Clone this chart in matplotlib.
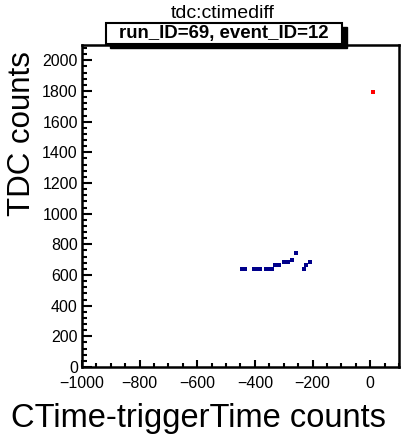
import matplotlib
matplotlib.use("Agg")
import matplotlib.pyplot as plt
from matplotlib.patches import Rectangle
from matplotlib.ticker import MultipleLocator

plt.rcParams['font.family'] = ['Liberation Sans', 'DejaVu Sans']

# blue hits (ctimediff vs tdc)
hit_x = [-446, -434, -404, -393, -381, -361, -350, -340, -329, -317,
         -300, -286, -271, -259, -230, -221, -209]
hit_y = [640, 640, 640, 640, 640, 640, 640, 640, 662, 662,
         682, 682, 701, 745, 638, 662, 684]
# red point
red_x = [10]
red_y = [1795]

W, H = 402, 443
fig = plt.figure(figsize=(W / 100, H / 100), dpi=100)
ax = fig.add_axes([82 / W, 1 - 367 / H, (399 - 82) / W, (367 - 45) / H])

ax.scatter(hit_x, hit_y, marker='s', s=10, color='#00008b', linewidths=0)
ax.scatter(red_x, red_y, marker='s', s=10, color='#ff0000', linewidths=0)

ax.set_xlim(-1000, 100)
ax.set_ylim(0, 2100)
ax.xaxis.set_major_locator(MultipleLocator(200))
ax.xaxis.set_minor_locator(MultipleLocator(50))
ax.yaxis.set_major_locator(MultipleLocator(200))
ax.yaxis.set_minor_locator(MultipleLocator(40))
ax.tick_params(axis='both', which='both', direction='in', labelsize=11.5,
               width=1.5, top=False, right=False)
ax.tick_params(axis='x', which='major', length=5)
ax.tick_params(axis='x', which='minor', length=3)
ax.tick_params(axis='y', which='major', length=7)
ax.tick_params(axis='y', which='minor', length=3.5)
ax.tick_params(axis='x', pad=6.5)
ax.tick_params(axis='y', pad=3)
for sp in ax.spines.values():
    sp.set_linewidth(1.8)

fig.text(198 / W, 1 - 419 / H, "CTime-triggerTime counts", fontsize=23.5,
         ha='center', va='center')
fig.text(22 / W, 1 - 134 / H, "TDC counts", fontsize=22.5, rotation=90,
         ha='center', va='center')

# title + stats-like box
fig.text(223 / W, 1 - 14 / H, "tdc:ctimediff", fontsize=14,
         ha='center', va='center')
fig.patches.append(Rectangle((110 / W, 1 - 48 / H), 237 / W, 21 / H,
                             transform=fig.transFigure, facecolor='black',
                             edgecolor='black', zorder=3))
fig.patches.append(Rectangle((106 / W, 1 - 44 / H), 236 / W, 21 / H,
                             transform=fig.transFigure, facecolor='white',
                             edgecolor='black', linewidth=1.5, zorder=4))
fig.text(224 / W, 1 - 33.5 / H, "run_ID=69, event_ID=12", fontsize=13.4,
         fontweight='bold', ha='center', va='center', zorder=5)

fig.savefig("out.png", dpi=100)
